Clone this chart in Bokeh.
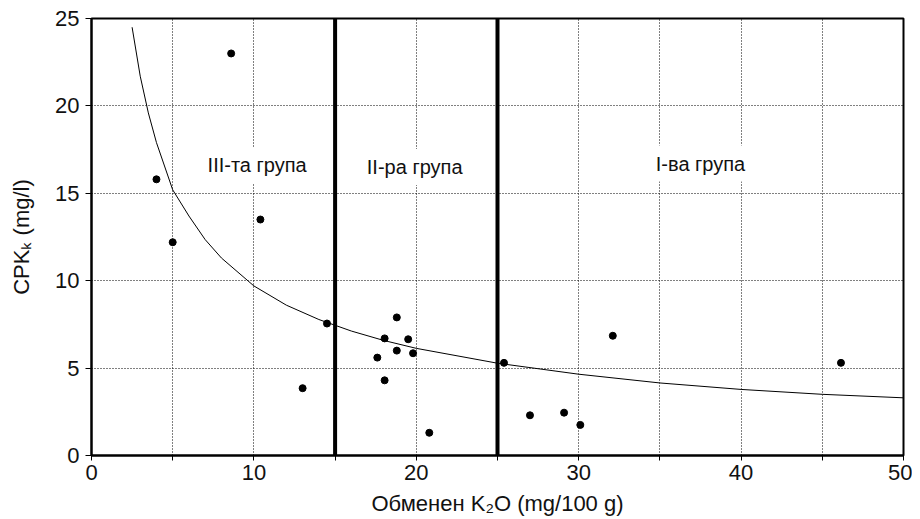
from bokeh.plotting import figure
from bokeh.models import Range1d, Label, FixedTicker
from bokeh.embed import file_html
from bokeh.resources import INLINE

# --- data ---
k2o = [4.0, 8.6, 10.4, 5.0, 13.0, 14.5, 18.8, 18.05, 19.5, 18.8,
       19.8, 17.6, 18.05, 20.8, 25.4, 27.0, 29.1, 30.1, 32.1, 46.15]
cpk = [15.8, 23.0, 13.5, 12.2, 3.85, 7.55, 7.9, 6.7, 6.65, 6.0,
       5.85, 5.6, 4.3, 1.3, 5.3, 2.3, 2.45, 1.75, 6.85, 5.3]

fit_x = [2.5, 3, 3.5, 4, 5, 6, 7, 8, 10, 12, 14, 16, 18, 20, 25, 30, 35, 40, 45, 50]
fit_y = [24.5, 21.7, 19.6, 17.9, 15.2, 13.7, 12.35, 11.3, 9.7, 8.6, 7.78, 7.12,
         6.58, 6.13, 5.28, 4.65, 4.15, 3.78, 3.5, 3.3]

group_bounds = [15, 25]
group_names = ["III-та група", "II-ра група", "I-ва група"]

x_ticks = [0, 5, 10, 15, 20, 25, 30, 35, 40, 45, 50]
x_labeled = [0, 10, 20, 30, 40, 50]
y_ticks = [0, 5, 10, 15, 20, 25]

x_title = "Обменен K\u2082O (mg/100 g)"
y_title = "CPK\u2096 (mg/l)"

FONT = "Liberation Sans"

p = figure(width=912, height=518, output_backend="svg", toolbar_location=None,
           x_range=Range1d(0, 50), y_range=Range1d(0, 25),
           min_border_left=91, min_border_right=9, min_border_top=18, min_border_bottom=60)
p.background_fill_color = "white"
p.border_fill_color = "white"
p.outline_line_color = "black"
p.outline_line_width = 2

# axes
for ax in (p.xaxis[0], p.yaxis[0]):
    ax.axis_line_color = "black"
    ax.axis_line_width = 2
    ax.major_tick_line_color = "black"
    ax.major_tick_in = 0
    ax.minor_tick_line_color = None
    ax.major_label_text_font = FONT
    ax.major_label_text_font_size = "22px"
    ax.major_label_text_color = "#111111"
    ax.axis_label_text_font = FONT
    ax.axis_label_text_font_size = "22px"
    ax.axis_label_text_font_style = "normal"
    ax.axis_label_text_color = "#111111"

p.xaxis.axis_label = x_title
p.yaxis.axis_label = y_title
p.xaxis.axis_label_standoff = 8
p.yaxis.axis_label_standoff = 18

p.xaxis.ticker = FixedTicker(ticks=x_ticks)
p.xaxis.major_label_overrides = {t: ("" if t not in x_labeled else str(t)) for t in x_ticks}
p.xaxis.major_tick_out = 5
p.xaxis.major_label_standoff = 4
p.yaxis.ticker = FixedTicker(ticks=y_ticks)
p.yaxis.major_tick_out = 6
p.yaxis.major_label_standoff = 6

# grid (dotted)
p.xgrid.ticker = FixedTicker(ticks=x_ticks[1:-1])
p.ygrid.ticker = FixedTicker(ticks=y_ticks[1:-1])
for g in (p.xgrid[0], p.ygrid[0]):
    g.grid_line_color = "black"
    g.grid_line_dash = "1 2"
    g.grid_line_width = 1

# fitted curve
p.line(fit_x, fit_y, line_color="black", line_width=1)

# group boundaries
p.segment(x0=group_bounds, y0=[0] * len(group_bounds), x1=group_bounds,
          y1=[25] * len(group_bounds), line_color="black", line_width=4)

# points
p.scatter(k2o, cpk, size=7, color="black")

# group labels
for name, gx, gy in zip(group_names, [10.2, 19.9, 37.5], [16.6, 16.5, 16.7]):
    p.add_layout(Label(x=gx, y=gy, text=name, text_align="center", text_baseline="middle",
                       text_font=FONT, text_font_size="20px", text_color="#111111",
                       background_fill_color="white", padding=7))

open("out.html", "w").write(file_html(p, INLINE))
